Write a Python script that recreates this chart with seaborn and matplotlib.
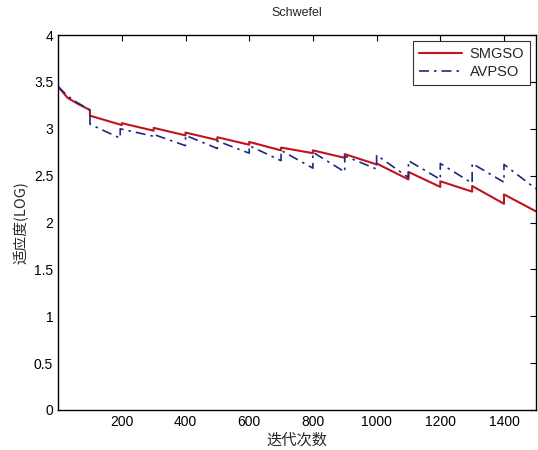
import numpy as np
import pandas as pd
import seaborn as sns
import matplotlib.pyplot as plt

# 데이터
smgso_x = [0, 30, 60, 100, 100, 150, 200, 200, 300, 300, 400, 400, 500, 500,
           600, 600, 700, 700, 800, 800, 900, 900, 1000, 1000, 1100, 1100,
           1200, 1200, 1300, 1300, 1400, 1400, 1500]
smgso_y = [3.45, 3.33, 3.27, 3.20, 3.14, 3.09, 3.04, 3.06, 2.98, 3.01, 2.93, 2.96,
           2.88, 2.91, 2.83, 2.86, 2.77, 2.80, 2.74, 2.77, 2.69, 2.73, 2.62, 2.63,
           2.46, 2.54, 2.38, 2.44, 2.33, 2.39, 2.20, 2.30, 2.12]

avpso_x = [0, 30, 60, 100, 100, 150, 195, 195, 300, 300, 400, 400, 500, 500,
           600, 600, 700, 700, 800, 800, 900, 900, 1000, 1000, 1100, 1100,
           1200, 1200, 1300, 1300, 1400, 1400, 1500]
avpso_y = [3.45, 3.35, 3.28, 3.20, 3.05, 2.97, 2.90, 3.00, 2.92, 2.94, 2.82, 2.93,
           2.79, 2.87, 2.74, 2.82, 2.66, 2.77, 2.58, 2.75, 2.54, 2.71, 2.57, 2.72,
           2.48, 2.66, 2.46, 2.63, 2.42, 2.63, 2.43, 2.62, 2.36]

x_ticks = [200, 400, 600, 800, 1000, 1200, 1400]
y_ticks = [0, 0.5, 1, 1.5, 2, 2.5, 3, 3.5, 4]
y_tick_labels = ['0', '0.5', '1', '1.5', '2', '2.5', '3', '3.5', '4']

sns.set_style('white')
plt.rcParams['font.family'] = ['Liberation Sans', 'Noto Sans CJK SC', 'DejaVu Sans']

fig = plt.figure(figsize=(5.38, 4.5), dpi=100)
ax = fig.add_axes([0.108, 0.089, 0.888, 0.833])

df_s = pd.DataFrame({'x': smgso_x, 'y': smgso_y})
df_a = pd.DataFrame({'x': avpso_x, 'y': avpso_y})

sns.lineplot(data=df_s, x='x', y='y', ax=ax, estimator=None, sort=False,
             color='#c0141c', linewidth=1.5, label='SMGSO')
sns.lineplot(data=df_a, x='x', y='y', ax=ax, estimator=None, sort=False,
             color='#1c2a80', linewidth=1.2, linestyle='-.', label='AVPSO')
ax.lines[1].set_dashes([6, 3, 1.5, 3])

ax.set_xlim(0, 1500)
ax.set_ylim(0, 4)
ax.set_xticks(x_ticks)
ax.set_xticklabels([str(t) for t in x_ticks])
ax.set_yticks(y_ticks)
ax.set_yticklabels(y_tick_labels)
ax.tick_params(direction='in', top=True, right=True, length=4, width=0.8,
               labelsize=10, colors='black')
for s in ax.spines.values():
    s.set_color('black')
    s.set_linewidth(1.0)

ax.set_title('Schwefel', fontsize=9, pad=14)
ax.set_xlabel('迭代次数', fontsize=11, family=['Noto Sans CJK SC', 'DejaVu Sans'], labelpad=2)
ax.set_ylabel('适应度(LOG)', fontsize=10.5, family=['Noto Sans CJK SC', 'DejaVu Sans'], labelpad=4)

leg = ax.legend(loc='upper right', fontsize=10.5, frameon=True, fancybox=False,
                handlelength=3.0, handletextpad=0.5, borderpad=0.4,
                labelspacing=0.3, borderaxespad=0.4)
leg.get_frame().set_edgecolor('black')
leg.get_frame().set_linewidth(0.8)
leg.get_lines()[1].set_dashes([6, 3, 1.5, 3])

fig.savefig('out.png', dpi=100)
